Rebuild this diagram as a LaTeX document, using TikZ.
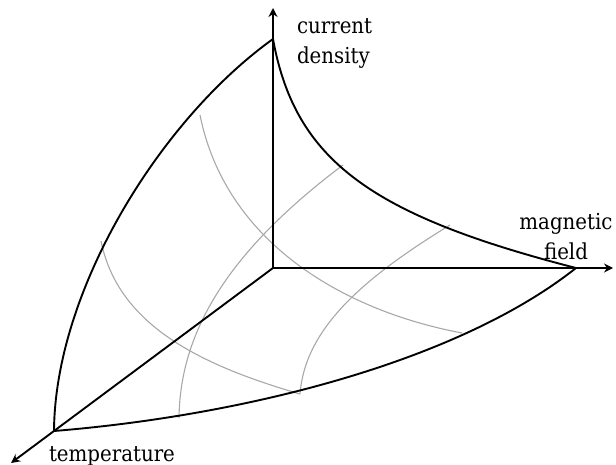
\documentclass[tikz,border=0pt]{standalone}
\usepackage{fontspec}
\setmainfont{DejaVu Serif Condensed}
\usetikzlibrary{arrows.meta}
\definecolor{cgrid}{HTML}{A8A8A8}
\tikzset{
  every picture/.style={line width=1pt},
  axis/.style={-{Stealth[length=4.5pt, width=4.5pt]}, line width=0.95pt},
  bound/.style={line width=0.95pt},
  level/.style={draw=cgrid, line width=0.55pt},
  lab/.style={font=\fontsize{11}{15}\selectfont, align=center, inner sep=0pt},
}

\begin{document}
\begin{tikzpicture}[x=0.5pt, y=-0.5pt]
  \useasboundingbox (0,0) rectangle (616,465);
  % corners of the critical surface
  \coordinate (O) at (273,268);
  \coordinate (Jc) at (273,39);
  \coordinate (Hc) at (576,268);
  \coordinate (Tc) at (54,431);
  % axis ends
  \coordinate (Jend) at (273,8);
  \coordinate (Hend) at (613,268);
  \coordinate (Tend) at (11,463);
  % ends of the level lines
  \coordinate (a1) at (200,115); \coordinate (a2) at (462,333);
  \coordinate (b1) at (101,241); \coordinate (m2) at (300,394);
  \coordinate (c1) at (343,165); \coordinate (c2) at (179,418);
  \coordinate (d1) at (450,225);
  % level lines
  \draw[level] (a1) .. controls (225,240) and (340,310) .. (a2);
  \draw[level] (b1) .. controls (118,325) and (200,365) .. (m2);
  \draw[level] (c1) .. controls (230,250) and (180,330) .. (c2);
  \draw[level] (d1) .. controls (360,280) and (305,330) .. (m2);
  % edges of the surface
  \draw[bound] (Jc) .. controls (295,160) and (370,215) .. (Hc);
  \draw[bound] (Jc) .. controls (160,120) and (55,290) .. (Tc);
  \draw[bound] (Tc) .. controls (250,415) and (460,360) .. (Hc);
  % axes
  \draw[axis] (O) -- (Jend);
  \draw[axis] (O) -- (Hend);
  \draw[axis] (O) -- (Tend);
  % labels
  \node[lab, anchor=north west, align=left] (jlab) at (296,18) {current\\density};
  \node[lab, anchor=north] (hlab) at (566,212) {magnetic\\field};
  \node[lab, anchor=base] (tlab) at (112,461) {temperature};
\end{tikzpicture}
\end{document}
